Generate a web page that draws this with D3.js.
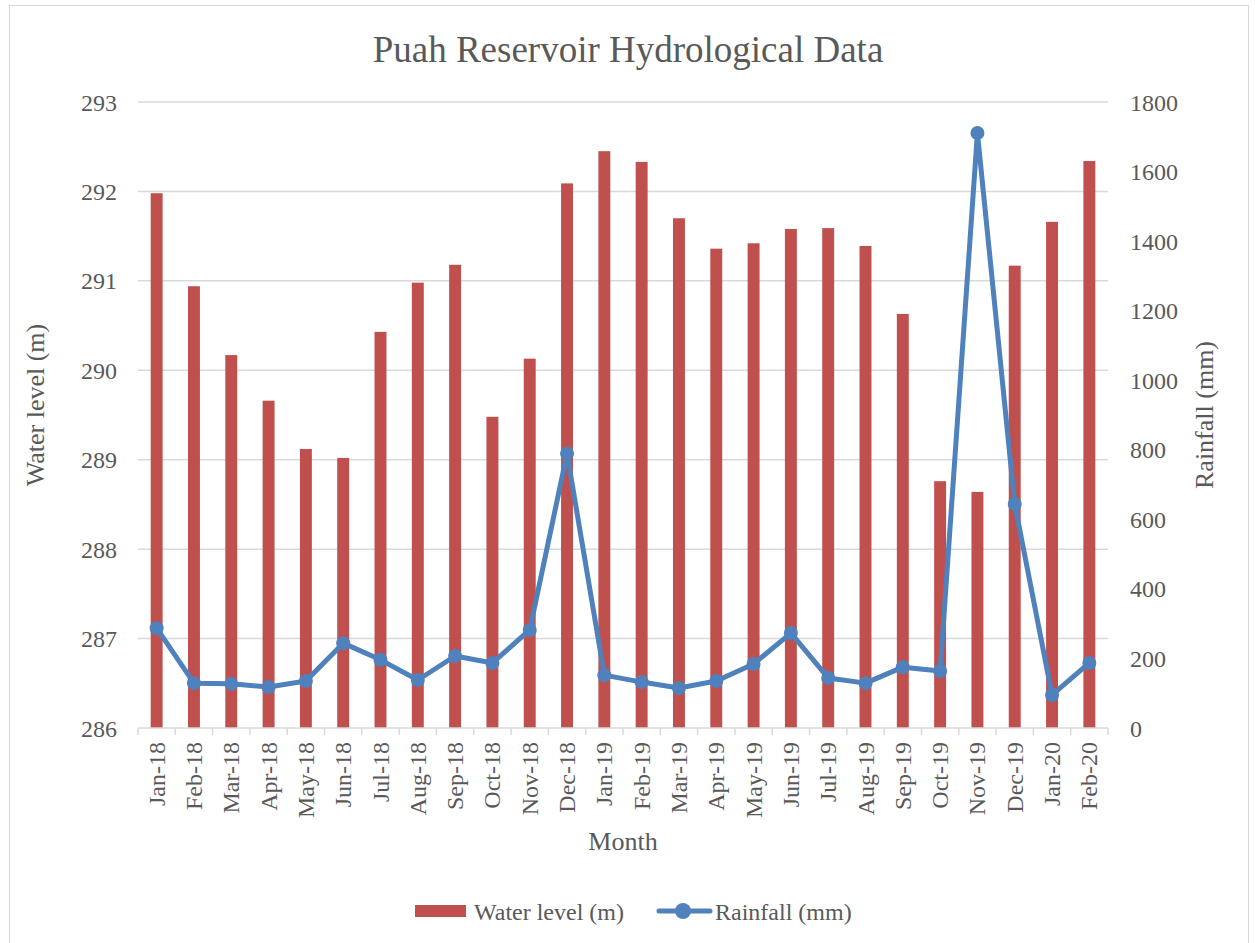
<!DOCTYPE html>
<html>
<head>
<meta charset="utf-8">
<script src="https://cdn.jsdelivr.net/npm/d3@7"></script>
<style>
  body { margin: 0; background: #fff; }
  svg text { font-family: "Liberation Serif", "Times New Roman", serif; fill: #595959; }
</style>
</head>
<body>
<svg id="chart" width="1255" height="943"></svg>
<script>
// categories and series
var months = ["Jan-18","Feb-18","Mar-18","Apr-18","May-18","Jun-18","Jul-18","Aug-18","Sep-18","Oct-18","Nov-18","Dec-18",
              "Jan-19","Feb-19","Mar-19","Apr-19","May-19","Jun-19","Jul-19","Aug-19","Sep-19","Oct-19","Nov-19","Dec-19",
              "Jan-20","Feb-20"];
var waterLevel = [291.98, 290.94, 290.17, 289.66, 289.12, 289.02, 290.43, 290.98, 291.18, 289.48, 290.13, 292.09,
                  292.45, 292.33, 291.70, 291.36, 291.42, 291.58, 291.59, 291.39, 290.63, 288.76, 288.64, 291.17,
                  291.66, 292.34];
var rainfall = [287, 129, 127, 118, 135, 244, 196, 138, 207, 187, 282, 789,
                152, 132, 115, 135, 184, 273, 144, 129, 175, 164, 1711, 644,
                95, 187];
var leftTicks = [286, 287, 288, 289, 290, 291, 292, 293];
var rightTicks = [0, 200, 400, 600, 800, 1000, 1200, 1400, 1600, 1800];

// dimensions
var margin = {top: 102, right: 147, bottom: 215, left: 138},
    width = 1255 - margin.left - margin.right,
    height = 943 - margin.top - margin.bottom;

var svg = d3.select("#chart");

// outer border
svg.append("rect")
    .attr("x", 9.5).attr("y", 5.5)
    .attr("width", 1239).attr("height", 940)
    .attr("fill", "none").attr("stroke", "#d9d9d9");

var g = svg.append("g")
    .attr("transform", "translate(" + margin.left + "," + margin.top + ")");

// scales
var x = d3.scaleBand().domain(months).range([0, width]).paddingInner(0.68).paddingOuter(0.34);
var yL = d3.scaleLinear().domain([286, 293]).range([height, 0]);
var yR = d3.scaleLinear().domain([0, 1800]).range([height, 0]);

// gridlines
g.append("g").selectAll("line")
    .data(leftTicks.slice(1))
  .enter().append("line")
    .attr("x1", 0).attr("x2", width)
    .attr("y1", function(d) { return yL(d); })
    .attr("y2", function(d) { return yL(d); })
    .attr("stroke", "#d9d9d9").attr("stroke-width", 1.5);

// bars
g.append("g").selectAll("rect")
    .data(waterLevel)
  .enter().append("rect")
    .attr("x", function(d, i) { return x(months[i]); })
    .attr("width", x.bandwidth())
    .attr("y", function(d) { return yL(d); })
    .attr("height", function(d) { return height - yL(d); })
    .attr("fill", "#c0504d");

// x axis baseline and ticks at band boundaries
var step = x.step();
var xAxis = g.append("g").attr("transform", "translate(0," + height + ")");
xAxis.append("line").attr("x1", 0).attr("x2", width)
    .attr("stroke", "#d9d9d9").attr("stroke-width", 1.5);
xAxis.selectAll("line.tick")
    .data(d3.range(months.length + 1))
  .enter().append("line")
    .attr("class", "tick")
    .attr("x1", function(i) { return i * step; })
    .attr("x2", function(i) { return i * step; })
    .attr("y1", 0).attr("y2", 7)
    .attr("stroke", "#d9d9d9").attr("stroke-width", 1.5);
xAxis.selectAll("text")
    .data(months)
  .enter().append("text")
    .attr("transform", function(d) {
      return "translate(" + (x(d) + x.bandwidth() / 2 + 8) + ",14) rotate(-90)";
    })
    .attr("text-anchor", "end")
    .style("font-size", "24px")
    .text(function(d) { return d; });

// left axis labels
g.append("g").selectAll("text")
    .data(leftTicks)
  .enter().append("text")
    .attr("x", -21).attr("y", function(d) { return yL(d) + 8.5; })
    .attr("text-anchor", "end")
    .style("font-size", "24px")
    .text(function(d) { return d; });

// right axis labels
g.append("g").selectAll("text")
    .data(rightTicks)
  .enter().append("text")
    .attr("x", width + 22).attr("y", function(d) { return yR(d) + 8.5; })
    .attr("text-anchor", "start")
    .style("font-size", "24px")
    .text(function(d) { return d; });

// rainfall line
var line = d3.line()
    .x(function(d, i) { return x(months[i]) + x.bandwidth() / 2; })
    .y(function(d) { return yR(d); });

g.append("path")
    .datum(rainfall)
    .attr("d", line)
    .attr("fill", "none")
    .attr("stroke", "#4f81bd")
    .attr("stroke-width", 5)
    .attr("stroke-linejoin", "round");

g.append("g").selectAll("circle")
    .data(rainfall)
  .enter().append("circle")
    .attr("cx", function(d, i) { return x(months[i]) + x.bandwidth() / 2; })
    .attr("cy", function(d) { return yR(d); })
    .attr("r", 7)
    .attr("fill", "#4f81bd");

// title and axis titles
svg.append("text")
    .attr("x", 628).attr("y", 62)
    .attr("text-anchor", "middle")
    .style("font-size", "37px")
    .text("Puah Reservoir Hydrological Data");

svg.append("text")
    .attr("x", 623).attr("y", 850)
    .attr("text-anchor", "middle")
    .style("font-size", "26px")
    .text("Month");

svg.append("text")
    .attr("transform", "translate(44,405) rotate(-90)")
    .attr("text-anchor", "middle")
    .style("font-size", "26px")
    .text("Water level (m)");

svg.append("text")
    .attr("transform", "translate(1213,415) rotate(-90)")
    .attr("text-anchor", "middle")
    .style("font-size", "26px")
    .text("Rainfall (mm)");

// legend
var legend = svg.append("g").attr("transform", "translate(0,911)");
legend.append("rect")
    .attr("x", 415).attr("y", -6).attr("width", 51).attr("height", 12)
    .attr("fill", "#c0504d");
legend.append("text")
    .attr("x", 474).attr("y", 9)
    .style("font-size", "24px")
    .text("Water level (m)");
legend.append("line")
    .attr("x1", 659).attr("x2", 710).attr("y1", 0).attr("y2", 0)
    .attr("stroke", "#4f81bd").attr("stroke-width", 5).attr("stroke-linecap", "round");
legend.append("circle")
    .attr("cx", 683).attr("cy", 0).attr("r", 8)
    .attr("fill", "#4f81bd");
legend.append("text")
    .attr("x", 715).attr("y", 9)
    .style("font-size", "24px")
    .text("Rainfall (mm)");
</script>
</body>
</html>
